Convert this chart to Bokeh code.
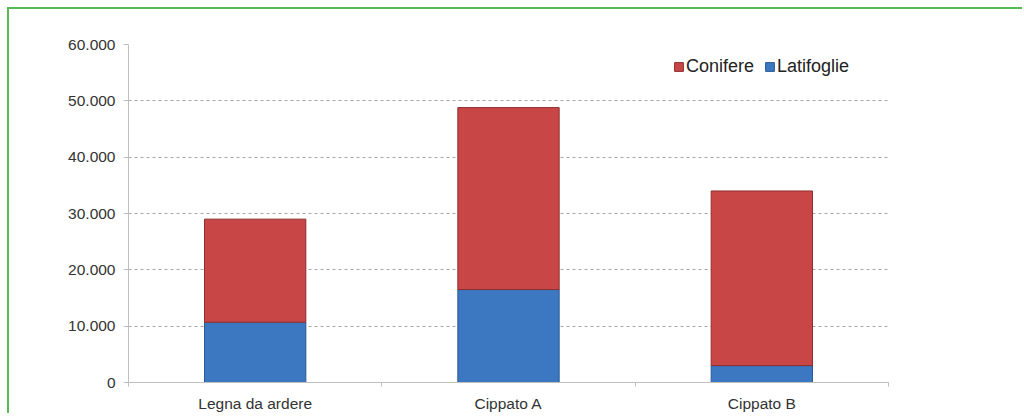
from bokeh.plotting import figure
from bokeh.models import Range1d, LinearAxis, FixedTicker, Legend, LegendItem, Grid
from bokeh.embed import file_html
from bokeh.resources import INLINE

categories = ["Legna da ardere", "Cippato A", "Cippato B"]
latifoglie = [10700, 16500, 3000]
conifere = [18300, 32300, 31000]
series_names = ["Conifere", "Latifoglie"]
y_ticks = [0, 10000, 20000, 30000, 40000, 50000, 60000]
y_tick_labels = ["0", "10.000", "20.000", "30.000", "40.000", "50.000", "60.000"]

FONT = "Liberation Sans"
GREEN = "#55bb55"

n = len(categories)
xpos = [i + 0.5 for i in range(n)]
separators = list(range(n + 1))
totals = [a + b for a, b in zip(latifoglie, conifere)]

p = figure(width=1015, height=406, output_backend="svg", toolbar_location=None,
           x_range=Range1d(0, n), y_range=Range1d(0, 60000),
           x_axis_type=None, y_axis_type=None,
           min_border_left=119, min_border_right=136, min_border_top=35, min_border_bottom=33)
p.styles = {"margin-left": "7px", "margin-top": "7px",
            "border-left": f"2px solid {GREEN}", "border-top": f"2px solid {GREEN}",
            "border-right": "none", "border-bottom": "none"}
p.outline_line_color = None

r_lat = p.vbar(x=xpos, bottom=0, top=latifoglie, width=0.4,
               fill_color="#3c78c2", line_color="#2a5a96", line_width=1)
r_con = p.vbar(x=xpos, bottom=latifoglie, top=totals, width=0.4,
               fill_color="#c94646", line_color="#8e2f2f", line_width=1)

# y axis
yax = LinearAxis(ticker=FixedTicker(ticks=y_ticks))
yax.major_label_overrides = {t: l for t, l in zip(y_ticks, y_tick_labels)}
yax.axis_line_color = "#bfbfbf"
yax.major_tick_line_color = "#bfbfbf"
yax.major_tick_out = 5
yax.major_tick_in = 0
yax.minor_tick_line_color = None
yax.major_label_text_font = FONT
yax.major_label_text_font_size = "15.5px"
yax.major_label_text_color = "#333333"
yax.major_label_standoff = 8
p.add_layout(yax, "left")

# x axis: labels at category centres, separator ticks at boundaries (minor ticks)
xax = LinearAxis(ticker=FixedTicker(ticks=xpos, minor_ticks=separators))
xax.major_label_overrides = {x: c for x, c in zip(xpos, categories)}
xax.axis_line_color = "#bfbfbf"
xax.major_tick_line_color = None
xax.major_tick_out = 0
xax.major_tick_in = 0
xax.minor_tick_line_color = "#bfbfbf"
xax.minor_tick_out = 4
xax.minor_tick_in = 0
xax.major_label_text_font = FONT
xax.major_label_text_font_size = "15.5px"
xax.major_label_text_color = "#333333"
xax.major_label_standoff = 8
p.add_layout(xax, "below")

g = Grid(dimension=1, ticker=FixedTicker(ticks=y_ticks[1:]))
g.grid_line_color = "#a6a6a6"
g.grid_line_dash = "3 3"
g.grid_line_width = 1
p.add_layout(g)

legend = Legend(items=[LegendItem(label=series_names[0], renderers=[r_con]),
                       LegendItem(label=series_names[1], renderers=[r_lat])],
                orientation="horizontal", location=(545, 305))
legend.border_line_color = None
legend.background_fill_alpha = 0
legend.padding = 0
legend.margin = 0
legend.spacing = 10
legend.glyph_width = 11
legend.glyph_height = 11
legend.label_standoff = 2
legend.label_text_font = FONT
legend.label_text_font_size = "18px"
legend.label_text_color = "#222222"
p.add_layout(legend, "center")

open("out.html", "w").write(file_html(p, INLINE))
